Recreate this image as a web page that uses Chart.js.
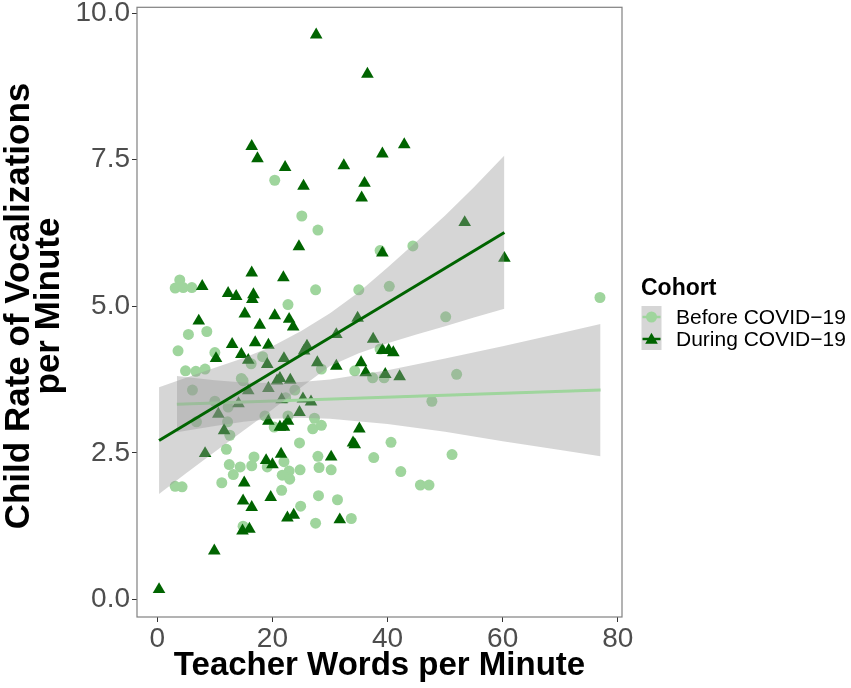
<!DOCTYPE html>
<html>
<head>
<meta charset="utf-8">
<script src="https://cdn.jsdelivr.net/npm/chart.js"></script>
<style>
  body { margin: 0; background: #ffffff; }
  #wrap { width: 851px; height: 688px; }
</style>
</head>
<body>
<div id="wrap"><canvas id="plot" width="851" height="688"></canvas></div>
<script>
// Before COVID-19 cohort (circles)
const beforeX = [20.4, 25.1, 27.9, 38.7, 3.9, 3.1, 4.5, 6.0, 27.5, 35.0, 22.7, 40.3, 44.4, 76.9,
  5.4, 8.6, 3.6, 10.0, 16.3, 18.3, 4.9, 6.7, 8.3, 38.7, 28.5, 34.3, 37.4, 39.4, 14.6, 14.9,
  6.1, 23.9, 22.3, 10.0, 12.3, 18.7, 6.8, 12.2, 22.7, 27.3, 27.0, 28.5, 20.3, 12.6, 24.7,
  12.0, 16.8, 27.9, 37.6, 12.5, 14.4, 16.4, 19.1, 22.0, 28.1, 30.2, 24.8, 22.9, 21.7, 13.2,
  23.0, 3.1, 4.3, 11.2, 21.6, 28.0, 31.3, 24.9, 27.5, 33.7, 14.9,
  50.1, 52.0, 47.7, 40.6, 51.2, 42.3, 45.7, 47.2];
const beforeY = [7.15, 6.54, 6.30, 5.95, 5.45, 5.31, 5.32, 5.32, 5.28, 5.28, 5.03, 5.34, 6.03, 5.15,
  4.52, 4.57, 4.24, 4.21, 4.02, 4.14, 3.90, 3.89, 3.93, 4.27, 3.93, 3.90, 3.78, 3.78, 3.77, 3.73,
  3.57, 3.57, 3.44, 3.38, 3.28, 3.13, 3.03, 3.03, 3.13, 3.09, 2.91, 2.97, 2.94, 2.80, 2.67,
  2.56, 2.43, 2.44, 2.42, 2.30, 2.26, 2.28, 2.26, 2.35, 2.25, 2.21, 2.21, 2.19, 2.12, 2.13,
  2.05, 1.93, 1.92, 1.99, 1.86, 1.77, 1.70, 1.59, 1.30, 1.38, 1.25,
  4.82, 3.84, 3.38, 2.68, 2.47, 2.18, 1.95, 1.95];

// During COVID-19 cohort (triangles)
const duringX = [0.3, 9.9, 14.8, 16.0, 22.6, 23.7, 31.7, 16.4, 14.9, 19.7, 15.1, 18.9, 20.0, 21.5,
  8.3, 30.2, 34.0, 34.3, 35.1, 11.6, 21.3, 22.0, 19.3, 22.7, 10.6, 24.7, 14.1, 21.6, 25.3,
  26.7, 15.8, 19.3, 21.3, 20.8, 23.1, 19.1, 22.0, 10.2, 14.6, 15.8, 13.0, 17.0, 19.3, 7.2,
  15.2, 20.4, 22.9, 23.6, 17.8, 26.0, 25.5, 27.8, 31.1, 31.1, 34.8, 35.4, 36.2, 37.5, 39.1,
  40.2, 41.0, 39.6, 42.1, 16.5, 16.7, 13.7, 12.3, 7.8, 21.9, 16.4, 24.6, 39.1, 35.5, 36.0,
  25.4, 22.2, 32.4, 17.4, 16.4, 39.1, 42.9, 36.5, 27.6, 53.4, 60.3];
const duringY = [0.17, 0.83, 1.17, 1.20, 1.39, 1.44, 1.36, 1.57, 1.68, 1.74, 1.99, 2.37, 2.30, 2.48,
  2.49, 2.43, 2.67, 2.64, 2.91, 2.88, 2.94, 2.94, 3.04, 3.04, 3.16, 3.19, 3.34, 3.41, 3.42,
  3.37, 3.56, 3.60, 3.77, 3.73, 3.74, 4.01, 4.11, 4.11, 4.18, 4.08, 4.35, 4.38, 4.34, 4.75,
  4.87, 4.84, 4.78, 4.65, 4.68, 4.32, 4.24, 4.04, 4.52, 3.98, 4.80, 4.04, 3.87, 4.44, 4.25,
  4.25, 4.21, 3.84, 3.80, 5.12, 5.20, 5.17, 5.22, 5.34, 5.49, 5.57, 6.02, 5.91, 6.85, 7.10,
  7.05, 7.37, 7.40, 7.52, 7.73, 7.60, 7.76, 8.96, 9.63, 6.43, 5.82];

// fitted lines and their confidence bands
const beforeFitX = [3.4, 77.0];
const beforeFitY = [3.33, 3.57];
const beforeBandX = [3.4, 10, 15, 20, 25, 30, 40, 50, 60, 70, 77.0];
const beforeBandHi = [3.81, 3.74, 3.70, 3.69, 3.71, 3.75, 3.91, 4.11, 4.32, 4.54, 4.70];
const beforeBandLo = [2.85, 2.96, 3.03, 3.08, 3.10, 3.08, 2.99, 2.86, 2.70, 2.55, 2.44];

const duringFitX = [0.3, 60.3];
const duringFitY = [2.71, 6.26];
const duringBandX = [0.3, 5, 10, 15, 20, 25, 30, 35, 40, 45, 50, 55, 60.3];
const duringBandHi = [3.62, 3.78, 3.95, 4.12, 4.32, 4.58, 4.88, 5.24, 5.66, 6.10, 6.55, 7.03, 7.57];
const duringBandLo = [1.80, 2.15, 2.52, 2.88, 3.24, 3.62, 3.98, 4.20, 4.37, 4.52, 4.66, 4.81, 4.96];

const xTicks = [0, 20, 40, 60, 80];
const yTicks = [0, 2.5, 5, 7.5, 10];
const seriesNames = ['Before COVID\u221219', 'During COVID\u221219'];

const lightGreen = '#9fd59d';
const darkGreen = '#006400';
const bandFill = 'rgba(153,153,153,0.4)';
const fontFamily = '"Liberation Sans", Arial, sans-serif';

function toPoints(xs, ys) {
  return xs.map((x, i) => ({ x: x, y: ys[i] }));
}

function drawTriangle(ctx, x, y, r) {
  ctx.beginPath();
  for (let k = 0; k < 3; k++) {
    const a = k * 2 * Math.PI / 3;
    const px = x + Math.sin(a) * r;
    const py = y - Math.cos(a) * r;
    if (k == 0) ctx.moveTo(px, py); else ctx.lineTo(px, py);
  }
  ctx.closePath();
  ctx.fill();
}

// tick labels may hang over the panel edge, like in ggplot
function noLabelPadding(scale) {
  scale.paddingTop = 0;
  scale.paddingBottom = 0;
  scale.paddingLeft = 0;
  scale.paddingRight = 0;
}

// panel border + y title + legend (ggplot style)
const panelAndLegend = {
  id: 'panelAndLegend',
  afterDraw(chart) {
    const ctx = chart.ctx;
    const a = chart.chartArea;
    ctx.save();
    ctx.strokeStyle = '#808080';
    ctx.lineWidth = 1.2;
    ctx.strokeRect(a.left, a.top, a.right - a.left, a.bottom - a.top);

    // y axis title, two lines, rotated
    ctx.save();
    ctx.translate(0, 306);
    ctx.rotate(-Math.PI / 2);
    ctx.fillStyle = '#000000';
    ctx.font = 'bold 35px ' + fontFamily;
    ctx.textAlign = 'center';
    ctx.textBaseline = 'middle';
    ctx.fillText('Child Rate of Vocalizations', 0, 19);
    ctx.fillText('per Minute', 0, 49);
    ctx.restore();

    ctx.fillStyle = '#000000';
    ctx.font = 'bold 23px ' + fontFamily;
    ctx.textBaseline = 'alphabetic';
    ctx.fillText('Cohort', 641, 295);

    const rows = [317, 339];
    const keyLeft = 641.5, keyW = 20, keyH = 22;
    rows.forEach((cy, i) => {
      ctx.fillStyle = '#d6d6d6';
      ctx.fillRect(keyLeft, cy - keyH / 2, keyW, keyH);
      const col = i == 0 ? lightGreen : darkGreen;
      ctx.strokeStyle = col;
      ctx.lineWidth = 2.5;
      ctx.beginPath();
      ctx.moveTo(keyLeft + 1, cy);
      ctx.lineTo(keyLeft + keyW - 1, cy);
      ctx.stroke();
      ctx.fillStyle = col;
      if (i == 0) {
        ctx.beginPath();
        ctx.arc(keyLeft + keyW / 2, cy, 5.5, 0, Math.PI * 2);
        ctx.fill();
      } else {
        drawTriangle(ctx, keyLeft + keyW / 2, cy + 1, 7.3);
      }
      ctx.fillStyle = '#000000';
      ctx.font = '21px ' + fontFamily;
      ctx.textBaseline = 'middle';
      ctx.fillText(seriesNames[i], 676, cy + 1);
    });
    ctx.restore();
  }
};

const ctx = document.getElementById('plot').getContext('2d');
const chart = new Chart(ctx, {
  type: 'scatter',
  data: {
    datasets: [
      {
        label: seriesNames[0],
        data: toPoints(beforeX, beforeY),
        pointStyle: 'circle',
        pointRadius: 5.5,
        pointBackgroundColor: lightGreen,
        pointBorderWidth: 0,
        order: 7
      },
      {
        label: seriesNames[1],
        data: toPoints(duringX, duringY),
        pointStyle: 'triangle',
        pointRadius: 7.3,
        pointBackgroundColor: darkGreen,
        pointBorderWidth: 0,
        order: 6
      },
      {
        type: 'line',
        label: 'before band hi',
        data: toPoints(beforeBandX, beforeBandHi),
        fill: '+1',
        backgroundColor: bandFill,
        borderWidth: 0,
        pointRadius: 0,
        order: 5
      },
      {
        type: 'line',
        label: 'before band lo',
        data: toPoints(beforeBandX, beforeBandLo),
        fill: false,
        borderWidth: 0,
        pointRadius: 0,
        order: 5
      },
      {
        type: 'line',
        label: 'before fit',
        data: toPoints(beforeFitX, beforeFitY),
        borderColor: lightGreen,
        borderWidth: 3,
        pointRadius: 0,
        fill: false,
        order: 4
      },
      {
        type: 'line',
        label: 'during band hi',
        data: toPoints(duringBandX, duringBandHi),
        fill: '+1',
        backgroundColor: bandFill,
        borderWidth: 0,
        pointRadius: 0,
        order: 3
      },
      {
        type: 'line',
        label: 'during band lo',
        data: toPoints(duringBandX, duringBandLo),
        fill: false,
        borderWidth: 0,
        pointRadius: 0,
        order: 3
      },
      {
        type: 'line',
        label: 'during fit',
        data: toPoints(duringFitX, duringFitY),
        borderColor: darkGreen,
        borderWidth: 3,
        pointRadius: 0,
        fill: false,
        order: 2
      }
    ]
  },
  options: {
    responsive: false,
    animation: false,
    events: [],
    layout: { padding: { left: 0, top: 7, right: 229, bottom: 0 } },
    plugins: {
      legend: { display: false },
      tooltip: { enabled: false }
    },
    scales: {
      x: {
        type: 'linear',
        min: -3.53,
        max: 80.73,
        afterBuildTicks: (scale) => { scale.ticks = xTicks.map(v => ({ value: v })); },
        afterFit: (scale) => { scale.height = 71; noLabelPadding(scale); },
        ticks: {
          color: '#4d4d4d',
          font: { family: fontFamily, size: 28 },
          padding: 0,
          maxRotation: 0,
          callback: (v) => String(v)
        },
        grid: { display: true, drawOnChartArea: false, drawTicks: true, tickLength: 5, color: '#333333' },
        border: { display: false },
        title: {
          display: true,
          text: 'Teacher Words per Minute',
          color: '#000000',
          font: { family: fontFamily, size: 33, weight: 'bold', lineHeight: 1.1 },
          padding: { top: 0, bottom: 4 }
        }
      },
      y: {
        type: 'linear',
        min: -0.30,
        max: 10.10,
        afterBuildTicks: (scale) => { scale.ticks = yTicks.map(v => ({ value: v })); },
        afterFit: (scale) => { scale.width = 137; noLabelPadding(scale); },
        ticks: {
          color: '#4d4d4d',
          font: { family: fontFamily, size: 28 },
          padding: 2,
          callback: (v) => Number(v).toFixed(1)
        },
        grid: { display: true, drawOnChartArea: false, drawTicks: true, tickLength: 5, color: '#333333' },
        border: { display: false },
        title: { display: false }
      }
    }
  },
  plugins: [panelAndLegend]
});
</script>
</body>
</html>
